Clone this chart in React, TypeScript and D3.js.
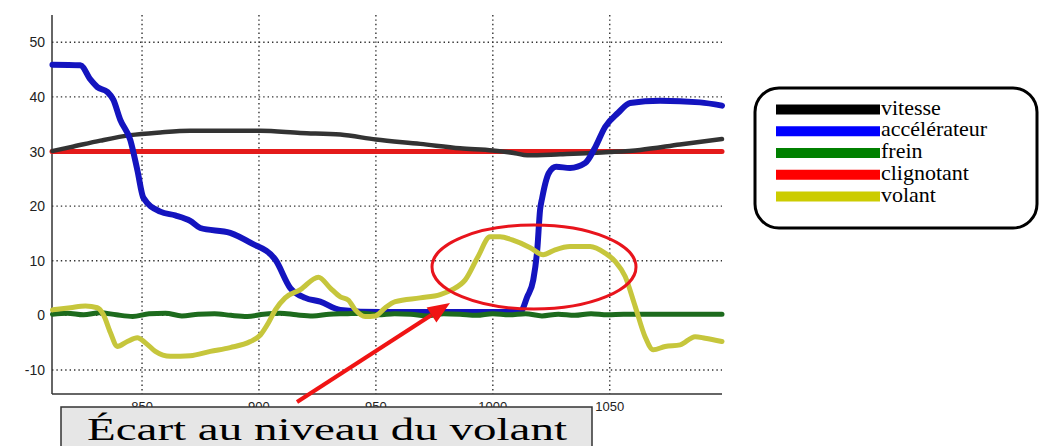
import React from "react";
import * as d3 from "d3";

const xTicks = [850, 900, 950, 1000, 1050];
const yTicks = [-10, 0, 10, 20, 30, 40, 50];

const vitesseX = [811.7, 819.4, 832.2, 845, 857.8, 870.6, 900.6, 917.7, 934.8, 950, 969, 986, 1000, 1009.6, 1014.7, 1028.8, 1050, 1063, 1080, 1098];
const vitesseY = [30.1, 30.8, 32.0, 33.0, 33.5, 33.8, 33.8, 33.4, 33.1, 32.2, 31.4, 30.6, 30.2, 29.7, 29.3, 29.5, 29.9, 30.3, 31.3, 32.3];

const accelX = [811.7, 823.6, 827.9, 830.9, 835.2, 837.7, 840.7, 845, 848, 850.6, 857.8, 864.2, 870.6, 874.9, 887.7, 896.3, 907, 913.4, 919.8, 926.2, 934.8, 951.9, 1011.7, 1014.7, 1017.3, 1019, 1020.2, 1021.1, 1024, 1027.1, 1033, 1039.5, 1043.7, 1048, 1053.6, 1058.7, 1071.5, 1088.6, 1098];
const accelY = [45.9, 45.8, 43.2, 41.8, 40.9, 39.5, 35.8, 32.1, 26.6, 21.5, 19.0, 18.3, 17.3, 16.0, 15.1, 13.3, 10.2, 5.0, 3.2, 2.5, 1.0, 0.6, 0.6, 3.4, 6.5, 12, 19.3, 21.5, 26.1, 27.2, 27.0, 27.9, 30.7, 34.5, 37.1, 38.9, 39.3, 39.0, 38.4];

const freinX = [811.7, 818, 825, 832, 839, 846, 853, 860, 867, 874, 881, 888, 895, 902, 909, 916, 923, 930, 937, 944, 951, 958, 965, 972, 979, 986, 993, 1000, 1007, 1014, 1021, 1028, 1035, 1042, 1049, 1056, 1070, 1085, 1098];
const freinY = [0.2, 0.4, 0.1, 0.5, 0.1, -0.2, 0.3, 0.4, -0.1, 0.2, 0.3, 0.0, -0.2, 0.2, 0.4, 0.1, -0.1, 0.2, 0.3, 0.4, 0.1, 0.3, 0.2, -0.1, 0.3, 0.2, 0.0, 0.3, 0.1, 0.3, -0.1, 0.2, 0.0, 0.3, 0.1, 0.2, 0.2, 0.2, 0.2];

const clignX = [811.5, 1098];
const clignY = [30, 30];

const volantX = [811.7, 819.4, 825.8, 830.9, 833.5, 836.5, 839.4, 843.7, 848, 851.4, 855.7, 862.1, 870.6, 879.2, 887.7, 896.3, 900.6, 904, 907, 911.2, 917.7, 925.4, 930.5, 934.8, 938.2, 941.2, 945.4, 949.7, 954, 958.3, 968.9, 977.5, 982.6, 988.2, 993.7, 998.8, 1003.1, 1008.3, 1016, 1021.5, 1026.6, 1033, 1041.6, 1048, 1052.3, 1056.6, 1060.9, 1065.1, 1068.6, 1073.7, 1080.1, 1086.5, 1090.8, 1098];
const volantY = [1.0, 1.4, 1.7, 1.4, 0.1, -3.2, -5.7, -4.8, -4.1, -5.0, -6.6, -7.5, -7.4, -6.6, -5.9, -4.8, -3.6, -1.4, 1.0, 3.2, 4.7, 7.0, 5.0, 3.4, 2.8, 1.0, -0.2, -0.1, 1.4, 2.5, 3.2, 3.8, 4.7, 6.5, 10.8, 14.4, 14.4, 13.8, 12.4, 11.1, 12.0, 12.6, 12.6, 11.4, 9.9, 7.1, 1.6, -3.9, -6.3, -5.7, -5.4, -3.9, -4.2, -4.8];

const legendLabels = ["vitesse", "accélérateur", "frein", "clignotant", "volant"];
const legendColors = ["#000000", "#0000ff", "#008000", "#ff0000", "#cccc00"];

const annotation = "Écart au niveau du volant";

export default function App() {
  const x = d3.scaleLinear().domain([811.5, 1098]).range([52, 722]);
  const y = d3.scaleLinear().domain([-14.4, 55]).range([394, 15]);
  const mk = (xs: number[], ys: number[]) =>
    d3
      .line<number>()
      .x((_, i) => x(xs[i]))
      .y((d) => y(d))
      .curve(d3.curveMonotoneX)(ys) || "";

  const series = [
    { xs: clignX, ys: clignY, color: "#e41a1a", w: 5 },
    { xs: vitesseX, ys: vitesseY, color: "#333333", w: 4.5 },
    { xs: accelX, ys: accelY, color: "#1414bf", w: 6 },
    { xs: freinX, ys: freinY, color: "#1d6b1d", w: 5 },
    { xs: volantX, ys: volantY, color: "#c6c63c", w: 5 },
  ];

  const legendRow = d3.scaleLinear().domain([0, 4]).range([109.5, 196.5]);

  const tip: [number, number] = [450, 303];
  const start: [number, number] = [297, 402];
  const ang = Math.atan2(tip[1] - start[1], tip[0] - start[0]);
  const headLen = 22;
  const headW = 9;
  const bx = tip[0] - headLen * Math.cos(ang);
  const by = tip[1] - headLen * Math.sin(ang);
  const px = -Math.sin(ang) * headW;
  const py = Math.cos(ang) * headW;

  return (
    <svg
      width={1042}
      height={446}
      style={{ position: "absolute", left: 0, top: 0, background: "#fff" }}
    >
      <defs>
        <clipPath id="labelClip">
          <rect x={0} y={395} width={1042} height={12} />
          <rect x={593} y={395} width={449} height={25} />
        </clipPath>
      </defs>
      {/* grid */}
      <g stroke="#333" strokeWidth={1.4} strokeDasharray="1.4,3">
        {yTicks.map((t) => (
          <line key={"gy" + t} x1={52} x2={722} y1={y(t)} y2={y(t)} />
        ))}
        {xTicks.map((t) => (
          <line key={"gx" + t} x1={x(t)} x2={x(t)} y1={15} y2={394} />
        ))}
      </g>
      {/* axes */}
      <line x1={52} x2={52} y1={15} y2={394} stroke="#333" strokeWidth={1.5} />
      <line x1={52} x2={722} y1={394} y2={394} stroke="#333" strokeWidth={1.5} />
      <g fontFamily="Liberation Sans, Arial, sans-serif" fontSize={14} fill="#222">
        {yTicks.map((t) => (
          <text key={"ly" + t} x={45} y={y(t) + 5} textAnchor="end">
            {t}
          </text>
        ))}
      </g>
      <g fontFamily="Liberation Sans, Arial, sans-serif" fontSize={13} fill="#222" clipPath="url(#labelClip)">
        {xTicks.map((t) => (
          <text key={"lx" + t} x={x(t)} y={411} textAnchor="middle">
            {t}
          </text>
        ))}
      </g>
      {/* series */}
      {series.map((s, i) => (
        <path
          key={i}
          d={mk(s.xs, s.ys)}
          fill="none"
          stroke={s.color}
          strokeWidth={s.w}
          strokeLinejoin="round"
          strokeLinecap="round"
        />
      ))}
      {/* ellipse */}
      <ellipse cx={534} cy={267} rx={102} ry={42} fill="none" stroke="#e8141c" strokeWidth={3} />
      {/* arrow */}
      <line x1={start[0]} y1={start[1]} x2={bx} y2={by} stroke="#f01414" strokeWidth={4} />
      <polygon
        points={`${tip[0]},${tip[1]} ${bx + px},${by + py} ${bx - px},${by - py}`}
        fill="#f01414"
      />
      {/* annotation box */}
      <rect x={61} y={407} width={531} height={50} fill="#e6e6e6" stroke="#333" strokeWidth={1.5} />
      <text
        x={87}
        y={440}
        fontFamily="Liberation Serif, Times New Roman, serif"
        fontSize={31}
        textLength={480}
        lengthAdjust="spacingAndGlyphs"
        fill="#000"
      >
        {annotation}
      </text>
      {/* legend */}
      <rect x={755} y={88} width={282} height={140} rx={24} ry={24} fill="#fff" stroke="#000" strokeWidth={3} />
      {legendLabels.map((l, i) => (
        <g key={l}>
          <rect x={776} y={legendRow(i) - 5} width={104} height={10} fill={legendColors[i]} />
          <text
            transform={`translate(881,${legendRow(i) + 5}) scale(1.1,1)`}
            fontFamily="Liberation Serif, Times New Roman, serif"
            fontSize={20}
            fill="#000"
          >
            {l}
          </text>
        </g>
      ))}
    </svg>
  );
}
